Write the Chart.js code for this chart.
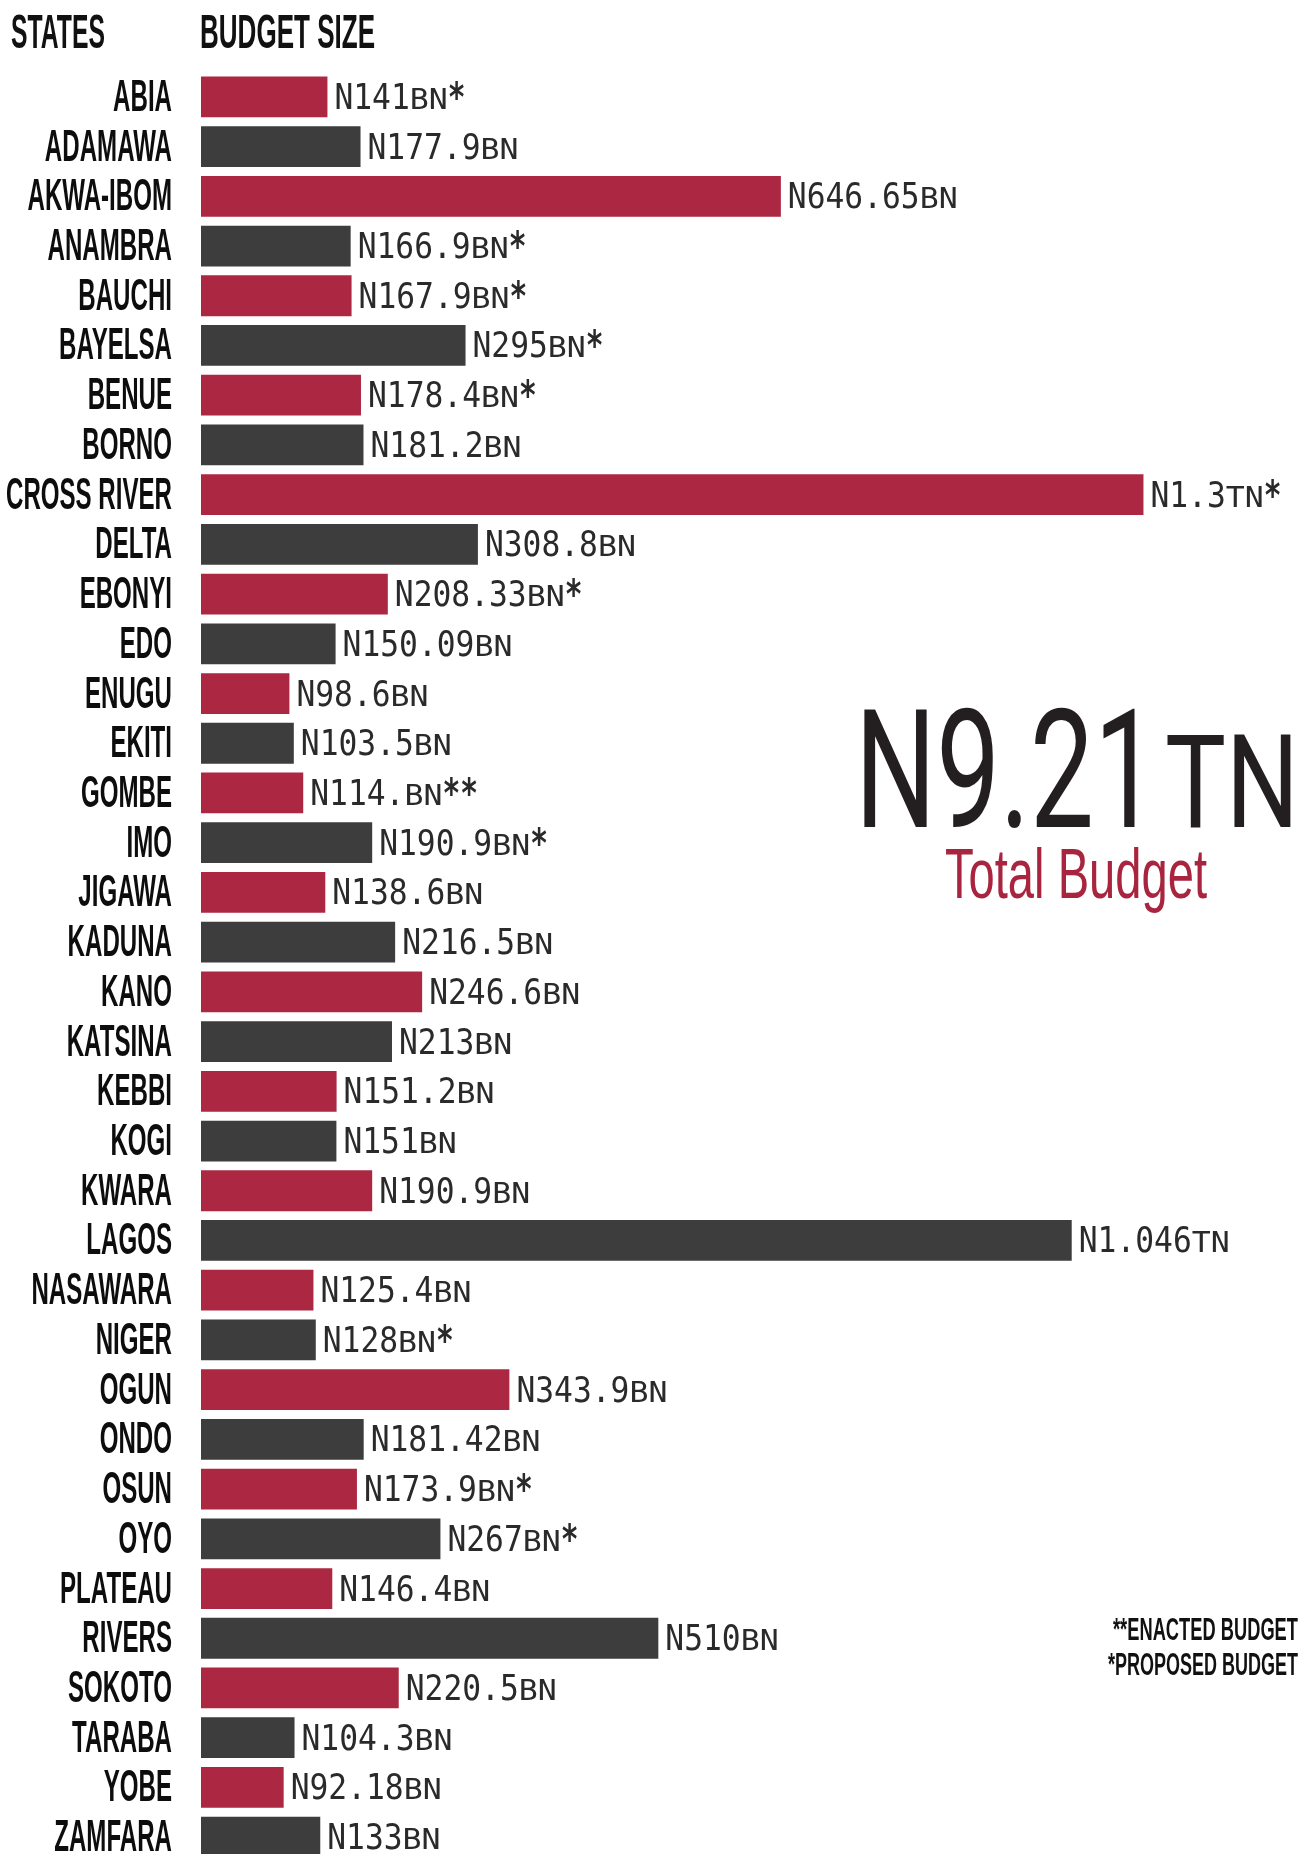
<!DOCTYPE html>
<html>
<head>
<meta charset="utf-8">
<title>State budgets</title>
<script src="https://cdn.jsdelivr.net/npm/chart.js@4.4.1/dist/chart.umd.min.js"></script>
<style>
    html, body { margin: 0; padding: 0; background: #fff; overflow: hidden; }
    #wrap { width: 1308px; height: 1854px; overflow: hidden; }
</style>
</head>
<body>
<div id="wrap"><canvas id="chart" width="1308" height="1872"></canvas></div>
<script>
// states in the order they appear
const states = ['ABIA', 'ADAMAWA', 'AKWA-IBOM', 'ANAMBRA', 'BAUCHI', 'BAYELSA', 'BENUE', 'BORNO',
    'CROSS RIVER', 'DELTA', 'EBONYI', 'EDO', 'ENUGU', 'EKITI', 'GOMBE', 'IMO', 'JIGAWA', 'KADUNA',
    'KANO', 'KATSINA', 'KEBBI', 'KOGI', 'KWARA', 'LAGOS', 'NASAWARA', 'NIGER', 'OGUN', 'ONDO',
    'OSUN', 'OYO', 'PLATEAU', 'RIVERS', 'SOKOTO', 'TARABA', 'YOBE', 'ZAMFARA'];

// budget size in billions of naira (as printed)
const budgetBn = [141, 177.9, 646.65, 166.9, 167.9, 295, 178.4, 181.2,
    1300, 308.8, 208.33, 150.09, 98.6, 103.5, 114, 190.9, 138.6, 216.5,
    246.6, 213, 151.2, 151, 190.9, 1046, 125.4, 128, 343.9, 181.42,
    173.9, 267, 146.4, 510, 220.5, 104.3, 92.18, 133];

// bar length as drawn (the two trillion bars are cut short in the graphic)
const barBn = [141, 177.9, 646.65, 166.9, 167.9, 295, 178.4, 181.2,
    1051, 308.8, 208.33, 150.09, 98.6, 103.5, 114, 190.9, 138.6, 216.5,
    246.6, 213, 151.2, 151, 190.9, 971, 125.4, 128, 343.9, 181.42,
    173.9, 267, 146.4, 510, 220.5, 104.3, 92.18, 133];

// label text pieces: amount, unit (small caps), footnote mark
const amountText = ['141', '177.9', '646.65', '166.9', '167.9', '295', '178.4', '181.2',
    '1.3', '308.8', '208.33', '150.09', '98.6', '103.5', '114.', '190.9', '138.6', '216.5',
    '246.6', '213', '151.2', '151', '190.9', '1.046', '125.4', '128', '343.9', '181.42',
    '173.9', '267', '146.4', '510', '220.5', '104.3', '92.18', '133'];
const unitText = ['BN', 'BN', 'BN', 'BN', 'BN', 'BN', 'BN', 'BN',
    'TN', 'BN', 'BN', 'BN', 'BN', 'BN', 'BN', 'BN', 'BN', 'BN',
    'BN', 'BN', 'BN', 'BN', 'BN', 'TN', 'BN', 'BN', 'BN', 'BN',
    'BN', 'BN', 'BN', 'BN', 'BN', 'BN', 'BN', 'BN'];
const markText = ['*', '', '', '*', '*', '*', '*', '',
    '*', '', '*', '', '', '', '**', '*', '', '',
    '', '', '', '', '', '', '', '*', '', '',
    '*', '*', '', '', '', '', '', ''];

const totalText = 'N9.21';
const totalUnit = 'TN';
const totalLabel = 'Total Budget';
const notes = ['**ENACTED BUDGET', '*PROPOSED BUDGET'];

const RED = '#ab2742';
const DARK = '#3d3d3d';
const NARROW = '"Liberation Sans Narrow", "Liberation Sans", Arial, sans-serif';
const MONO = '"DejaVu Sans Mono", "Liberation Mono", monospace';

// draw text squeezed horizontally by sx
function drawText(ctx, str, x, y, font, sx, align) {
    ctx.save();
    ctx.font = font;
    ctx.textAlign = 'left';
    ctx.textBaseline = 'alphabetic';
    const w = ctx.measureText(str).width * sx;
    let x0 = x;
    if (align === 'right') x0 = x - w;
    if (align === 'center') x0 = x - w / 2;
    ctx.translate(x0, y);
    ctx.scale(sx, 1);
    ctx.fillText(str, 0, 0);
    ctx.restore();
    return w;
}

// horizontal scale so that str in font becomes targetW wide
function fitScale(ctx, str, font, targetW) {
    ctx.save();
    ctx.font = font;
    const w = ctx.measureText(str).width;
    ctx.restore();
    return targetW / w;
}

const labelsPlugin = {
    id: 'labels',
    afterDatasetsDraw(chart) {
        const ctx = chart.ctx;
        const meta = chart.getDatasetMeta(0);
        const yScale = chart.scales.y;

        // headings
        ctx.fillStyle = '#111';
        let f = 'bold 49px ' + NARROW;
        drawText(ctx, 'STATES', 11, 48, f, fitScale(ctx, 'STATES', f, 94), 'left');
        drawText(ctx, 'BUDGET SIZE', 200, 48, f, fitScale(ctx, 'BUDGET SIZE', f, 175), 'left');

        // state names
        const stateFont = 'bold 45px ' + NARROW;
        const stateSx = fitScale(ctx, 'ENUGU', stateFont, 87);
        ctx.fillStyle = '#0d0d0d';
        states.forEach((s, i) => {
            const y = yScale.getPixelForTick(i);
            drawText(ctx, s, 172, y + 14, stateFont, stateSx, 'right');
        });

        // value labels
        const bigFont = '36px ' + MONO;
        const smallFont = '29px ' + MONO;
        const starFont = 'bold 40px ' + MONO;
        const bigSx = fitScale(ctx, 'N1.046', bigFont, 113);
        const smallSx = fitScale(ctx, 'BN', smallFont, 38);
        ctx.fillStyle = '#2a2a2a';
        meta.data.forEach((bar, i) => {
            let x = bar.x + 7;
            const y = bar.y + 12;
            x += drawText(ctx, 'N' + amountText[i], x, y, bigFont, bigSx, 'left');
            x += drawText(ctx, unitText[i], x, y, smallFont, smallSx, 'left');
            if (markText[i]) drawText(ctx, markText[i], x, y + 2, starFont, bigSx * 0.85, 'left');
        });

        // total
        ctx.fillStyle = '#231f20';
        f = '166px Roboto, "Liberation Sans", sans-serif';
        drawText(ctx, totalText, 855, 827, f, fitScale(ctx, totalText, f, 303), 'left');
        f = '129px Roboto, "Liberation Sans", sans-serif';
        drawText(ctx, totalUnit, 1165, 827, f, fitScale(ctx, totalUnit, f, 134), 'left');
        ctx.fillStyle = '#a8243f';
        f = '70px ' + NARROW;
        drawText(ctx, totalLabel, 945, 898, f, fitScale(ctx, totalLabel, f, 262), 'left');

        // footnotes
        ctx.fillStyle = '#111';
        f = 'bold 32px ' + NARROW;
        drawText(ctx, notes[0], 1298, 1640, f, fitScale(ctx, notes[0], f, 185), 'right');
        drawText(ctx, notes[1], 1298, 1675, f, fitScale(ctx, notes[1], f, 190), 'right');
    }
};

const ctx = document.getElementById('chart').getContext('2d');

const data = {
    labels: states,
    datasets: [{
        data: barBn,
        backgroundColor: states.map((s, i) => (i % 2 === 0 ? RED : DARK)),
        borderWidth: 0,
        barPercentage: 0.82,
        categoryPercentage: 1
    }]
};

const optionsChart = {
    indexAxis: 'y',
    responsive: false,
    animation: false,
    layout: {
        padding: { left: 201, right: 13, top: 72, bottom: 10 }
    },
    plugins: {
        legend: { display: false },
        tooltip: { enabled: false }
    },
    scales: {
        x: { display: false, min: 0, max: 1220 },
        y: { display: false }
    }
};

new Chart(ctx, { type: 'bar', data: data, options: optionsChart, plugins: [labelsPlugin] });
</script>
</body>
</html>
